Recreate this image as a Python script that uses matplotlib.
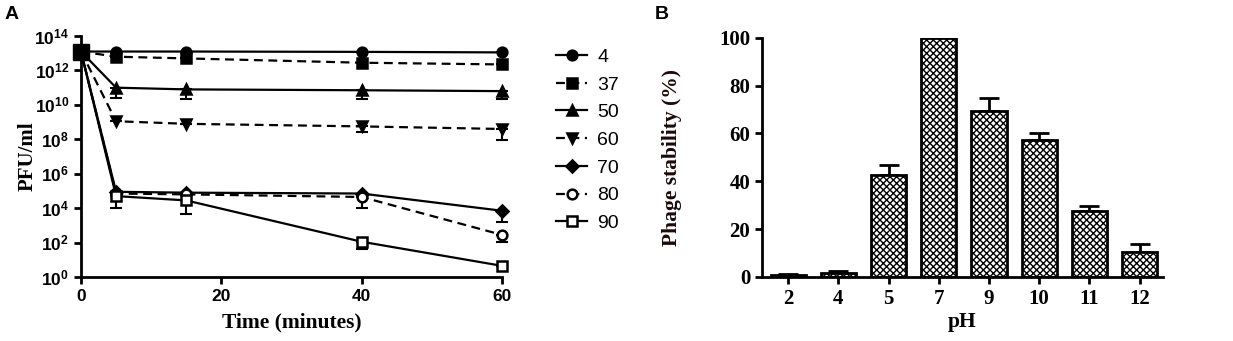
import numpy as np
import matplotlib
matplotlib.use('Agg')
import matplotlib.pyplot as plt
from matplotlib.ticker import FixedLocator, FuncFormatter

plt.rcParams['mathtext.fontset'] = 'custom'
plt.rcParams['mathtext.bf'] = 'Liberation Sans:bold'
plt.rcParams['mathtext.rm'] = 'Liberation Sans:bold'
plt.rcParams['mathtext.default'] = 'bf'
plt.rcParams['hatch.linewidth'] = 1.0

# ---- panel A data: log10(PFU/ml) per temperature ----
times = [0, 5, 15, 40, 60]
temps = ['4', '37', '50', '60', '70', '80', '90']
log_pfu = {
    '4':  [13.1, 13.1, 13.1, 13.08, 13.05],
    '37': [13.1, 12.8, 12.7, 12.45, 12.35],
    '50': [13.1, 11.0, 10.9, 10.85, 10.8],
    '60': [13.1, 9.05, 8.9, 8.75, 8.6],
    '70': [13.1, 4.95, 4.9, 4.85, 3.85],
    '80': [13.1, 4.85, 4.8, 4.65, 2.45],
    '90': [13.1, 4.7, 4.45, 2.05, 0.65],
}
# lower end of error bars (log10), None = hidden behind marker
log_low = {
    '4':  [None, None, None, None, None],
    '37': [None, None, None, None, None],
    '50': [None, 10.4, 10.35, 10.35, 10.35],
    '60': [None, None, None, 8.45, 7.95],
    '70': [None, None, None, None, 3.2],
    '80': [None, None, None, 4.0, 2.05],
    '90': [None, 4.0, 3.65, 1.6, None],
}
markers = {'4': 'o', '37': 's', '50': '^', '60': 'v', '70': 'D', '80': 'o', '90': 's'}
filled = {'4': True, '37': True, '50': True, '60': True, '70': True, '80': False, '90': False}
styles = {'4': '-', '37': '--', '50': '-', '60': '--', '70': '-', '80': '--', '90': '-'}
msizes = {'4': 7, '37': 7, '50': 7, '60': 7, '70': 6, '80': 7, '90': 7}

# ---- panel B data ----
ph_labels = ['2', '4', '5', '7', '9', '10', '11', '12']
stability = [0.8, 1.8, 42.7, 100, 69.2, 57.3, 27.7, 10.6]
stab_err = [0.5, 0.6, 4.2, 0, 5.8, 3.1, 2.1, 3.3]

fig = plt.figure(figsize=(12.33, 3.41), dpi=100)
axA = fig.add_axes([0.0657, 0.1877, 0.3413, 0.7066])
axB = fig.add_axes([0.618, 0.1877, 0.325, 0.7014])

serif = 'Liberation Serif'
sans = 'Liberation Sans'

handles = []
for t in temps:
    y = 10.0 ** np.array(log_pfu[t])
    lows = []
    for v, lo in zip(log_pfu[t], log_low[t]):
        lows.append(0 if lo is None else 10.0 ** v - 10.0 ** lo)
    axA.errorbar(times, y, yerr=[lows, np.zeros(len(y))], fmt='none',
                 ecolor='black', elinewidth=1.5, capsize=4, capthick=1.5,
                 clip_on=False, zorder=2)
    ln, = axA.plot(times, y, linestyle=styles[t], marker=markers[t],
                   color='black', lw=1.6, ms=msizes[t], mew=1.8,
                   mfc='black' if filled[t] else 'white',
                   clip_on=False, zorder=3, dashes=(4, 2.5) if styles[t] == '--' else (None, None))
    handles.append(ln)
# big overlapping marker at t=0
axA.plot([0], [10 ** 13.1], marker='s', ms=12, color='black', clip_on=False, zorder=4)

axA.set_yscale('log')
axA.set_xlim(0, 60)
axA.set_ylim(1, 1e14)
axA.yaxis.set_major_locator(FixedLocator([10.0 ** k for k in range(0, 15, 2)]))
axA.yaxis.set_minor_locator(FixedLocator([]))
axA.yaxis.set_major_formatter(FuncFormatter(lambda v, p: r'$10^{%d}$' % round(np.log10(v))))
axA.set_xticks([0, 20, 40, 60])
for s in ['top', 'right']:
    axA.spines[s].set_visible(False)
for s in ['left', 'bottom']:
    axA.spines[s].set_linewidth(2)
axA.tick_params(width=2, length=5, labelsize=12.5)
for lab in axA.get_xticklabels():
    lab.set_fontfamily(sans)
    lab.set_fontweight('bold')
    lab.set_fontsize(12.5)
axA.set_ylabel('PFU/ml', fontfamily=serif, fontweight='bold', fontsize=15, va='center')
axA.yaxis.set_label_coords(-0.126, 0.5)
axA.set_xlabel('Time (minutes)', fontfamily=serif, fontweight='bold', fontsize=15.5, va='center')
axA.xaxis.set_label_coords(0.5, -0.19)

fig.legend(handles, temps, loc='upper left', bbox_to_anchor=(0.437, 0.91),
           frameon=False, prop={'family': sans, 'size': 14},
           handlelength=1.6, labelspacing=0.52, handletextpad=0.5)

# ---- panel B ----
x = np.arange(len(ph_labels))
axB.bar(x, stability, width=0.7, color='white', edgecolor='black',
        linewidth=2, hatch='xxxxx', zorder=2)
axB.errorbar(x, stability, yerr=[np.zeros(len(x)), stab_err], fmt='none',
             ecolor='black', elinewidth=2, capsize=7, capthick=2, zorder=1)
axB.set_xlim(-0.52, len(x) - 0.54)
axB.set_ylim(0, 100)
axB.set_yticks([0, 20, 40, 60, 80, 100])
axB.set_xticks(x)
axB.set_xticklabels(ph_labels)
for s in ['top', 'right']:
    axB.spines[s].set_visible(False)
for s in ['left', 'bottom']:
    axB.spines[s].set_linewidth(2)
axB.tick_params(width=2, length=5)
for lab in axB.get_xticklabels() + axB.get_yticklabels():
    lab.set_fontfamily(serif)
    lab.set_fontweight('bold')
    lab.set_fontsize(15)
axB.set_ylabel('Phage stability (%)', fontfamily=serif, fontweight='bold',
               fontsize=15.5, color='#1a0a0a', va='center')
axB.yaxis.set_label_coords(-0.224, 0.5)
axB.set_xlabel('pH', fontfamily=serif, fontweight='bold', fontsize=15.5, va='center')
axB.xaxis.set_label_coords(0.5, -0.19)

fig.text(0.004, 0.945, 'A', fontfamily=sans, fontweight='bold', fontsize=14)
fig.text(0.531, 0.945, 'B', fontfamily=sans, fontweight='bold', fontsize=14)

plt.savefig('out.png', dpi=100)
plt.close()
